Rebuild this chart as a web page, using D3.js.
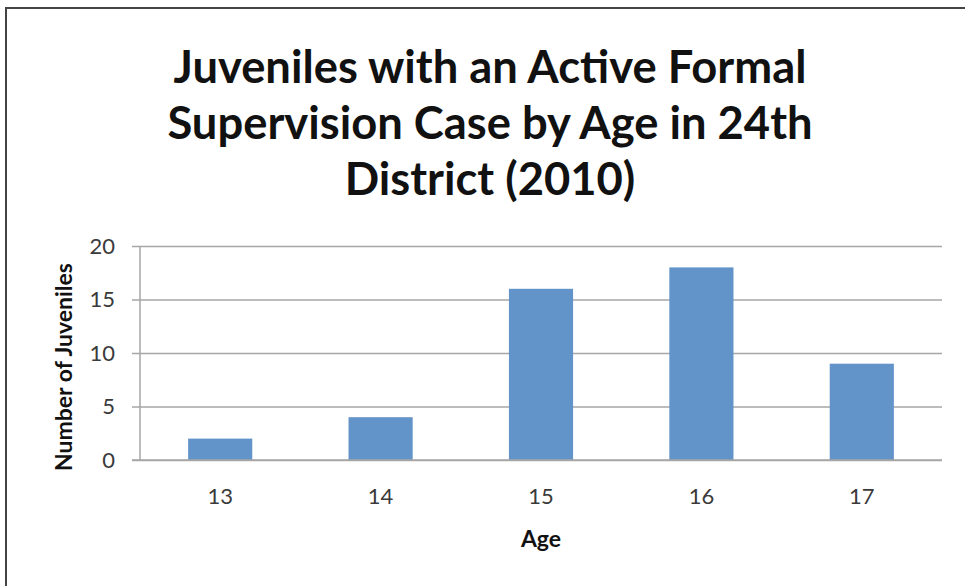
<!DOCTYPE html>
<html>
<head>
<meta charset="utf-8">
<script src="https://cdn.jsdelivr.net/npm/d3@7/dist/d3.min.js"></script>
<style>
  html, body { margin: 0; padding: 0; background: #fff; }
  svg { display: block; }
</style>
</head>
<body>
<script>
// Juvenile supervision cases, 24th District, 2010
const ages = ["13", "14", "15", "16", "17"];
const juveniles = [2, 4, 16, 18, 9];
const yTicks = [0, 5, 10, 15, 20];
const titleLines = [
  "Juveniles with an Active Formal",
  "Supervision Case by Age in 24th",
  "District (2010)"
];
const xTitle = "Age";
const yTitle = "Number of Juveniles";

const W = 965, H = 586;
const plot = { left: 140, right: 942, top: 246, bottom: 460 };
const FONT = "Lato, 'Open Sans', sans-serif";

const svg = d3.select("body").append("svg")
  .attr("width", W).attr("height", H);

// frame around the chart (top and left edges visible)
svg.append("rect")
  .attr("x", 6).attr("y", 8)
  .attr("width", W + 20).attr("height", H + 20)
  .attr("fill", "none")
  .attr("stroke", "#444")
  .attr("stroke-width", 2);

// title, three centered lines
const title = svg.append("g")
  .attr("font-family", FONT)
  .attr("font-weight", 700)
  .attr("fill", "#111")
  .attr("text-anchor", "middle");
const tl = title.selectAll("text").data(titleLines).join("text")
  .attr("x", 490)
  .attr("y", (d, i) => 83 + i * 56)
  .attr("font-size", 40)
  .text(d => d);
// size the title so its first line spans the intended width
const w0 = tl.node().getComputedTextLength();
tl.attr("font-size", 40 * 633 / w0);

const x = d3.scaleBand()
  .domain(ages)
  .range([plot.left, plot.right])
  .paddingInner(0.6)
  .paddingOuter(0.3);

const y = d3.scaleLinear()
  .domain([0, 20])
  .range([plot.bottom, plot.top]);

// horizontal gridlines with short ticks to the left of the axis
const yAxis = d3.axisLeft(y)
  .tickValues(yTicks)
  .tickSize(-(plot.right - plot.left))
  .tickPadding(25)
  .tickSizeOuter(0);

const gy = svg.append("g")
  .attr("transform", `translate(${plot.left},0)`)
  .call(yAxis);
gy.select(".domain").remove();
gy.selectAll(".tick line")
  .attr("x1", -8)
  .attr("stroke", "#a6a6a6")
  .attr("stroke-width", 1.5);
gy.selectAll(".tick text")
  .attr("font-family", FONT)
  .attr("font-size", 22)
  .attr("fill", "#3a3a3a");

// vertical axis line
svg.append("line")
  .attr("x1", plot.left).attr("x2", plot.left)
  .attr("y1", plot.top).attr("y2", plot.bottom)
  .attr("stroke", "#a6a6a6")
  .attr("stroke-width", 1.5);

// bars
svg.append("g")
  .selectAll("rect")
  .data(juveniles)
  .join("rect")
  .attr("x", (d, i) => x(ages[i]))
  .attr("width", x.bandwidth())
  .attr("y", d => y(d))
  .attr("height", d => y(0) - y(d))
  .attr("fill", "#6394c9");

// category axis
const xAxis = d3.axisBottom(x).tickSize(0).tickPadding(28);
const gx = svg.append("g")
  .attr("transform", `translate(0,${plot.bottom})`)
  .call(xAxis);
gx.select(".domain").remove();
gx.selectAll(".tick text")
  .attr("font-family", FONT)
  .attr("font-size", 22)
  .attr("fill", "#3a3a3a");

// baseline redrawn above the bars
svg.append("line")
  .attr("x1", plot.left - 8).attr("x2", plot.right)
  .attr("y1", y(0)).attr("y2", y(0))
  .attr("stroke", "#a6a6a6")
  .attr("stroke-width", 1.5);

// axis titles
svg.append("text")
  .attr("x", (plot.left + plot.right) / 2)
  .attr("y", 547)
  .attr("text-anchor", "middle")
  .attr("font-family", FONT)
  .attr("font-weight", 700)
  .attr("font-size", 23)
  .attr("fill", "#111")
  .text(xTitle);

svg.append("text")
  .attr("transform", `translate(72,${(plot.top + plot.bottom) / 2 + 14}) rotate(-90)`)
  .attr("text-anchor", "middle")
  .attr("font-family", FONT)
  .attr("font-weight", 700)
  .attr("font-size", 23)
  .attr("fill", "#111")
  .text(yTitle);
</script>
</body>
</html>
